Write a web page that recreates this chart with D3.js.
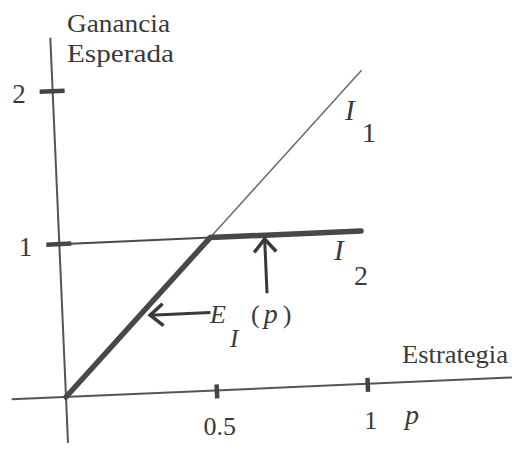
<!DOCTYPE html>
<html>
<head>
<meta charset="utf-8">
<script src="https://cdn.jsdelivr.net/npm/d3@7"></script>
<style>
  body { margin: 0; background: #fff; }
  svg { display: block; }
  svg text { font-family: "Liberation Serif", "Times New Roman", "DejaVu Serif", serif; fill: #3a3a3a; }
</style>
</head>
<body>
<svg id="chart" width="512" height="451"></svg>
<script>
// values
const xTicks = [0.5, 1]
const xTickLabels = ["0.5", "1"]
const yTicks = [1, 2]
const yTickLabels = ["1", "2"]

const lineI1 = [[0, 0], [1.025, 2.05]]       // I1 = 2p
const lineI2 = [[0, 1], [1, 1]]              // I2 = 1
const envelope = [[0, 0], [0.5, 1], [1, 1]]  // E_I(p), the lower of the two

const xAxisExtent = [-0.18, 1.6]
const yAxisExtent = [-0.3, 2.35]

const upArrow = { p: 0.68, from: 0.62, to: 0.975 }
const leftArrow = { v: 0.51, from: 0.49, to: 0.29 }

const svg = d3.select("#chart")
const origin = [66, 397]
const tilt = -2.5 // the scanned page sits slightly rotated

const x = d3.scaleLinear().domain([0, 1]).range([0, 302])
const y = d3.scaleLinear().domain([0, 1]).range([0, -153])

// maps a point of the rotated plot back to page coordinates (labels stay upright)
const rad = tilt * Math.PI / 180
const toPage = (lx, ly) => [
    origin[0] + lx * Math.cos(rad) - ly * Math.sin(rad),
    origin[1] + lx * Math.sin(rad) + ly * Math.cos(rad)
]

svg.append("defs").append("marker")
    .attr("id", "head")
    .attr("markerUnits", "userSpaceOnUse")
    .attr("viewBox", "-16 -14 20 28")
    .attr("markerWidth", 20).attr("markerHeight", 28)
    .attr("refX", 0).attr("refY", 0)
    .attr("orient", "auto")
    .append("path")
    .attr("d", "M-13,-11 L0,0 L-13,11")
    .attr("fill", "none")
    .attr("stroke", "#3a3a3a")
    .attr("stroke-width", 3.5)
    .attr("stroke-linejoin", "miter")

const plot = svg.append("g").attr("transform", `translate(${origin}) rotate(${tilt})`)
const line = d3.line().x(d => x(d[0])).y(d => y(d[1]))

// axes
plot.append("line")
    .attr("x1", x(xAxisExtent[0])).attr("x2", x(xAxisExtent[1]))
    .attr("y1", y(0)).attr("y2", y(0))
    .attr("stroke", "#555").attr("stroke-width", 2)
plot.append("line")
    .attr("x1", x(0)).attr("x2", x(0))
    .attr("y1", y(yAxisExtent[0])).attr("y2", y(yAxisExtent[1]))
    .attr("stroke", "#555").attr("stroke-width", 2)

plot.selectAll(".xtick").data(xTicks).join("line")
    .attr("class", "xtick")
    .attr("x1", d => x(d)).attr("x2", d => x(d))
    .attr("y1", y(0) - 6).attr("y2", y(0) + 8)
    .attr("stroke", "#444").attr("stroke-width", 4.5)
plot.selectAll(".ytick").data(yTicks).join("line")
    .attr("class", "ytick")
    .attr("x1", x(0) - 13).attr("x2", x(0) + 12)
    .attr("y1", d => y(d)).attr("y2", d => y(d))
    .attr("stroke", "#444").attr("stroke-width", 4.5)

// the two payoff lines and the envelope
plot.append("path").attr("d", line(lineI1))
    .attr("fill", "none").attr("stroke", "#6a6a6a").attr("stroke-width", 1.5)
plot.append("path").attr("d", line(lineI2))
    .attr("fill", "none").attr("stroke", "#4a4a4a").attr("stroke-width", 2)
plot.append("path").attr("d", line(envelope))
    .attr("fill", "none").attr("stroke", "#484848").attr("stroke-width", 5.5)
    .attr("stroke-linejoin", "round").attr("stroke-linecap", "round")

// arrows
plot.append("line")
    .attr("x1", x(upArrow.p)).attr("x2", x(upArrow.p))
    .attr("y1", y(upArrow.from)).attr("y2", y(upArrow.to))
    .attr("stroke", "#3a3a3a").attr("stroke-width", 3)
    .attr("marker-end", "url(#head)")
plot.append("line")
    .attr("x1", x(leftArrow.from)).attr("x2", x(leftArrow.to))
    .attr("y1", y(leftArrow.v)).attr("y2", y(leftArrow.v))
    .attr("stroke", "#3a3a3a").attr("stroke-width", 3)
    .attr("marker-end", "url(#head)")

// tick labels
xTicks.forEach((t, i) => {
    const [px, py] = toPage(x(t), y(0))
    svg.append("text").attr("x", px + 3).attr("y", py + 45)
        .attr("text-anchor", "middle").attr("font-size", 26)
        .text(xTickLabels[i])
})
yTicks.forEach((t, i) => {
    const [px, py] = toPage(x(0), y(t))
    svg.append("text").attr("x", px - 27).attr("y", py + 12)
        .attr("text-anchor", "end").attr("font-size", 27)
        .text(yTickLabels[i])
})

// axis titles and labels
const label = (tx, ty, str, size, italic) => svg.append("text")
    .attr("x", tx).attr("y", ty)
    .attr("font-size", size)
    .attr("font-style", italic ? "italic" : null)
    .text(str)

label(67, 32, "Ganancia", 26).attr("textLength", 103).attr("lengthAdjust", "spacingAndGlyphs")
label(67, 62, "Esperada", 26).attr("textLength", 107).attr("lengthAdjust", "spacingAndGlyphs")
label(402, 363, "Estrategia", 26).attr("textLength", 106).attr("lengthAdjust", "spacingAndGlyphs")
label(405, 424, "p", 28, true)

label(345, 120, "I", 29, true)
label(362, 142, "1", 28)
label(334, 260, "I", 29, true)
label(354, 285, "2", 28)

label(210, 323, "E", 26, true)
label(230, 347, "I", 25, true)
const paren = label(251, 323, "(", 26)
paren.append("tspan").attr("dx", 4).attr("font-style", "italic").attr("font-size", 28).text("p")
paren.append("tspan").attr("dx", 5).text(")")
</script>
</body>
</html>
